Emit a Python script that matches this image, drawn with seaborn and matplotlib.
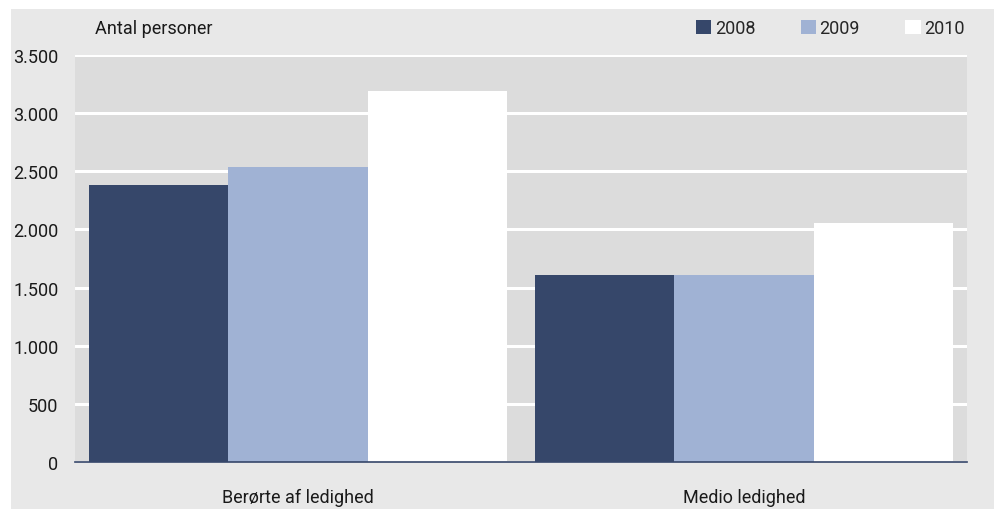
import matplotlib
matplotlib.use("Agg")
import matplotlib.pyplot as plt
import seaborn as sns
import pandas as pd
from matplotlib.patches import Rectangle

categories = ["Berørte af ledighed", "Medio ledighed"]
years = ["2008", "2009", "2010"]
v2008 = [2380, 1610]
v2009 = [2540, 1610]
v2010 = [3190, 2055]
yticks = [0, 500, 1000, 1500, 2000, 2500, 3000, 3500]
ytick_labels = ["0", "500", "1.000", "1.500", "2.000", "2.500", "3.000", "3.500"]
colors = ["#36476a", "#a0b2d4", "#ffffff"]

rows = []
for y, vals in zip(years, [v2008, v2009, v2010]):
    for c, v in zip(categories, vals):
        rows.append({"cat": c, "year": y, "val": v})
df = pd.DataFrame(rows)

sns.set_theme(style="white")
plt.rcParams['font.family'] = ['Roboto', 'DejaVu Sans']

FS = 13
W, H = 998, 510
fig = plt.figure(figsize=(W / 100, H / 100), dpi=100, facecolor="white")
fig.patches.append(Rectangle((11 / W, 0), (994 - 11) / W, (510 - 10) / H,
                             transform=fig.transFigure, facecolor="#e8e8e8",
                             edgecolor="none", zorder=-10))
ax = fig.add_axes([75 / W, (H - 463) / H, 892 / W, 407 / H])
ax.set_zorder(1)
ax.set_facecolor("#dcdcdc")

sns.barplot(data=df, x="cat", y="val", hue="year", palette=colors,
            width=0.937, gap=0, ax=ax, saturation=1, edgecolor="none",
            linewidth=0, legend=False, zorder=3)

ax.set_ylim(0, 3500)
ax.set_xlim(-0.5, 1.5)
ax.set_yticks(yticks)
ax.set_yticklabels(ytick_labels)
ax.grid(axis="y", color="white", linewidth=2.2, zorder=1)
ax.set_axisbelow(True)
for s in ["top", "right", "left"]:
    ax.spines[s].set_visible(False)
ax.spines["bottom"].set_color("#36476a")
ax.spines["bottom"].set_linewidth(1.2)
ax.spines["bottom"].set_zorder(4)
ax.tick_params(axis="y", length=0, pad=12, labelsize=FS, labelcolor="#1a1a1a")
ax.tick_params(axis="x", length=0, pad=19, labelsize=FS, labelcolor="#1a1a1a")
ax.set_xlabel("")
ax.set_ylabel("")

fig.text(95 / W, 1 - 29 / H, "Antal personer", fontsize=FS, color="#1a1a1a",
         va="center", ha="left")

handles = [Rectangle((0, 0), 1, 1, facecolor=c, edgecolor="none") for c in colors]
fig.legend(handles, years, loc="center left", bbox_to_anchor=(696 / W, 1 - 29 / H),
           ncol=3, frameon=False, fontsize=FS, handlelength=0.85, handleheight=0.85,
           handletextpad=0.2, columnspacing=2.5, borderpad=0, borderaxespad=0)

fig.savefig("out.png", dpi=100, facecolor="white")
